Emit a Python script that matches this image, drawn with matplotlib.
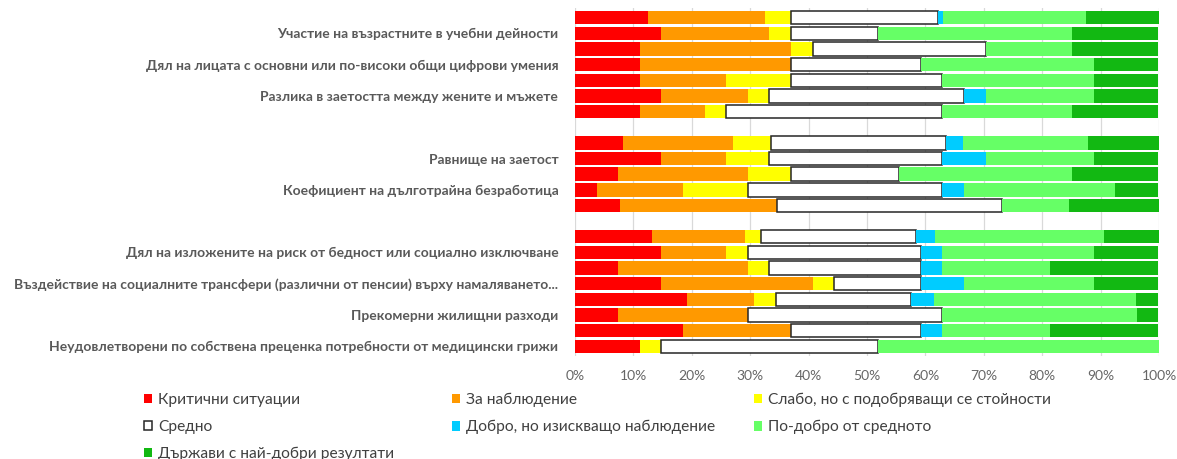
import matplotlib
matplotlib.use("Agg")
import matplotlib.pyplot as plt
import numpy as np

plt.rcParams['font.family'] = ['Lato', 'DejaVu Sans']

# 22 category slots (two empty separator slots); only every other label is shown, as in the original
categories = [
    "", "Участие на възрастните в учебни дейности",
    "", "Дял на лицата с основни или по-високи общи цифрови умения",
    "", "Разлика в заетостта между жените и мъжете",
    "",
    "",
    "", "Равнище на заетост",
    "", "Коефициент на дълготрайна безработица",
    "",
    "",
    "", "Дял на изложените на риск от бедност или социално изключване",
    "", "Въздействие на социалните трансфери (различни от пенсии) върху намаляването...",
    "", "Прекомерни жилищни разходи",
    "", "Неудовлетворени по собствена преценка потребности от медицински грижи",
]

# shares in % (top row first); separator slots are 0
critical = [12.5, 14.8, 11.1, 11.1, 11.1, 14.8, 11.1, 0,
            8.2, 14.8, 7.4, 3.7, 7.7, 0,
            13.1, 14.8, 7.4, 14.8, 19.2, 7.4, 18.5, 11.1]
watch = [20.0, 18.5, 25.9, 25.9, 14.8, 14.8, 11.1, 0,
         18.8, 11.1, 22.2, 14.8, 26.9, 0,
         16.0, 11.1, 22.2, 25.9, 11.5, 22.2, 18.5, 0.0]
weak_improving = [4.5, 3.7, 3.7, 0.0, 11.1, 3.7, 3.7, 0,
                  6.5, 7.4, 7.4, 11.1, 0.0, 0,
                  2.7, 3.7, 3.7, 3.7, 3.8, 0.0, 0.0, 3.7]
average = [25.2, 14.8, 29.6, 22.2, 25.9, 33.3, 37.0, 0,
           30.0, 29.6, 18.5, 33.3, 38.5, 0,
           26.6, 29.6, 25.9, 14.8, 23.1, 33.3, 22.2, 37.0]
good_watch = [0.8, 0.0, 0.0, 0.0, 0.0, 3.7, 0.0, 0,
              2.9, 7.4, 0.0, 3.7, 0.0, 0,
              3.2, 3.7, 3.7, 7.4, 3.8, 0.0, 3.7, 0.0]
better = [24.5, 33.3, 14.8, 29.6, 25.9, 18.5, 22.2, 0,
          21.5, 18.5, 29.6, 25.9, 11.5, 0,
          28.9, 25.9, 18.5, 22.2, 34.6, 33.3, 18.5, 48.2]
best = [12.5, 14.8, 14.8, 11.1, 11.1, 11.1, 14.8, 0,
        12.1, 11.1, 14.8, 7.4, 15.4, 0,
        9.5, 11.1, 18.5, 11.1, 3.8, 3.7, 18.5, 0.0]

series_names = ["Критични ситуации", "За наблюдение", "Слабо, но с подобряващи се стойности",
                "Средно", "Добро, но изискващо наблюдение", "По-добро от средното",
                "Държави с най-добри резултати"]
series_values = [critical, watch, weak_improving, average, good_watch, better, best]
colors = ["#FF0000", "#FF9900", "#FFFF00", "#FFFFFF", "#00CCFF", "#66FF66", "#12B812"]
edgecolors = [None, None, None, "#262626", None, None, None]

fig = plt.figure(figsize=(11.77, 4.59), dpi=100)
ax = fig.add_axes([575 / 1177, 1 - 356 / 459, (1159 - 575) / 1177, (356 - 8) / 459])

y = np.arange(len(categories))
left = np.zeros(len(categories))
handles = []
for name, vals, c, ec in zip(series_names, series_values, colors, edgecolors):
    vals = np.array(vals, dtype=float)
    m = vals > 0
    if ec is None:
        h = ax.barh(y[m], vals[m], left=left[m], height=0.86, color=c, edgecolor='none',
                    label=name, zorder=2)
    else:
        h = ax.barh(y[m], vals[m], left=left[m], height=0.86, color=c, edgecolor=ec,
                    linewidth=1.1, label=name, zorder=2)
    handles.append(h)
    left += vals

ax.set_xlim(0, 100)
ax.set_ylim(len(categories) - 0.38, -0.62)
ax.set_xticks(np.arange(0, 101, 10))
ax.set_xticklabels([f"{v}%" for v in range(0, 101, 10)])
ax.set_yticks(y)
ax.set_yticklabels(categories, fontsize=10, fontweight='bold', color='#595959')
ax.tick_params(axis='y', length=0, pad=12)
ax.tick_params(axis='x', length=0, pad=10, labelsize=10, labelcolor='#666666')
ax.grid(axis='x', color='#D9D9D9', linewidth=0.9, zorder=0)
ax.set_axisbelow(True)
for s in ax.spines.values():
    s.set_visible(False)

# legend laid out row-wise in three columns
cols = [[0, 3, 6], [1, 4], [2, 5]]
xs = [144 / 1177, 452 / 1177, 754 / 1177]
for idxs, xpos in zip(cols, xs):
    leg = fig.legend([handles[i] for i in idxs], [series_names[i] for i in idxs],
                     loc='upper left', bbox_to_anchor=(xpos, 1 - 393 / 459),
                     frameon=False, fontsize=11.2, handlelength=0.5, handleheight=0.55,
                     handletextpad=0.4, labelspacing=0.82, borderpad=0, borderaxespad=0)
    for t in leg.get_texts():
        t.set_color('#404040')

fig.savefig("out.png", dpi=100)
